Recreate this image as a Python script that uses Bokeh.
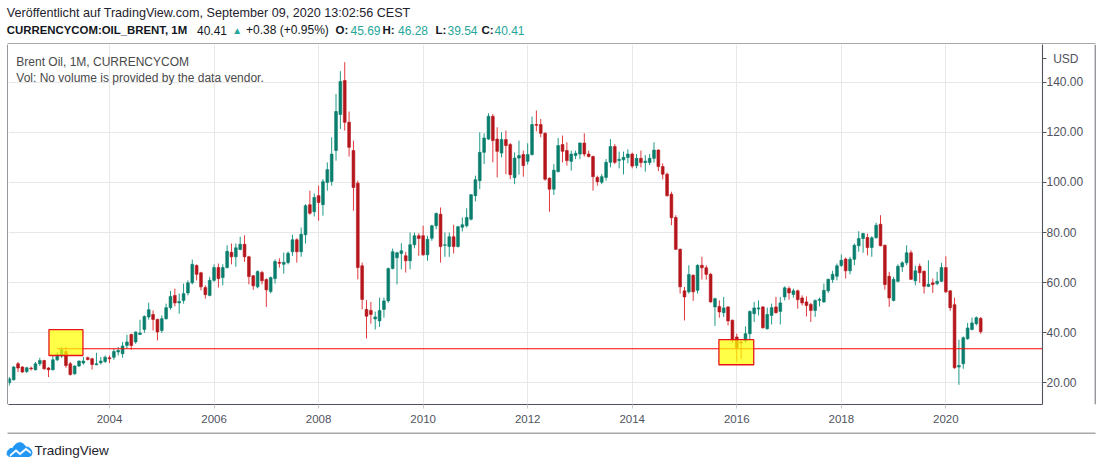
import pandas as pd
from bokeh.plotting import figure
from bokeh.layouts import column, row
from bokeh.models import (Range1d, FixedTicker, NumeralTickFormatter, Label,
                          ColumnDataSource)
from bokeh.embed import file_html
from bokeh.resources import INLINE
from bokeh.core.properties import value

# ---------------- data (monthly Brent OHLC, Feb 2002 .. Sep 2020) ----------------
first_month = "2002-02"

opens = [
    20.0, 21.2, 27.6, 26.3, 24.5, 25.9, 25.2, 27.6, 28.9, 25.9, 25.2,
    29.2, 30.7, 32.5, 27.6, 23.6, 26.7, 27.9, 30.0, 29.6, 27.2, 28.0, 28.5,
    30.0, 30.2, 32.3, 31.6, 34.9, 39.3, 36.3, 39.3, 41.3, 46.3, 47.3, 45.3,
    40.9, 45.6, 50.0, 54.9, 51.9, 52.9, 55.9, 59.9, 66.8, 63.9, 58.0, 54.9,
    60.9, 66.0, 62.0, 66.0, 72.1, 70.3, 73.2, 75.3, 70.3, 62.7, 58.3, 64.0,
    61.2, 56.4, 61.6, 68.1, 67.3, 68.0, 72.3, 77.1, 72.3, 79.1, 91.1, 88.3,
    94.7, 91.1, 100.0, 100.4, 112.7, 127.1, 140.7, 124.0, 112.7, 99.7, 66.7, 49.3,
    48.9, 45.5, 44.7, 49.3, 52.7, 65.6, 69.9, 71.6, 70.7, 68.7, 75.1, 78.7,
    78.7, 71.1, 77.7, 82.7, 87.3, 74.9, 74.4, 78.3, 74.4, 82.1, 82.7, 85.3,
    94.7, 100.7, 112.0, 117.3, 126.4, 117.3, 111.7, 117.1, 115.1, 101.9, 109.7, 111.1,
    108.4, 111.1, 123.1, 123.1, 119.6, 101.7, 97.3, 104.3, 115.1, 112.7, 108.4, 110.7,
    111.3, 115.7, 111.3, 110.3, 102.0, 100.1, 102.0, 108.0, 114.3, 108.7, 109.0, 109.9,
    111.3, 106.7, 109.6, 107.9, 107.9, 109.6, 112.9, 106.3, 103.3, 95.3, 86.0, 73.3,
    56.7, 56.3, 62.9, 56.9, 66.9, 65.9, 63.3, 50.3, 50.5, 48.0, 50.3, 45.0,
    38.3, 36.3, 36.7, 39.6, 47.6, 49.5, 50.3, 41.6, 46.9, 50.3, 48.5, 54.3,
    57.6, 55.3, 56.7, 53.9, 52.3, 51.3, 48.9, 52.9, 52.3, 56.7, 61.2, 62.5,
    66.8, 69.4, 64.7, 69.3, 74.7, 77.6, 78.0, 74.0, 77.9, 83.3, 74.9, 62.5,
    52.9, 60.5, 66.3, 67.9, 71.9, 60.7, 66.5, 64.5, 58.5, 59.9, 59.6, 60.5,
    66.0, 56.7, 51.2, 26.3, 27.6, 37.6, 41.3, 43.6, 45.69,
]
highs = [
    22.3, 26.7, 28.3, 26.7, 26.4, 26.5, 28.3, 30.0, 29.2, 26.3, 30.9,
    32.3, 34.3, 34.3, 28.3, 27.0, 28.9, 30.3, 30.5, 30.0, 32.0, 30.3, 30.9,
    30.9, 33.6, 34.3, 36.3, 39.2, 39.6, 40.5, 45.2, 46.9, 52.0, 48.9, 45.6,
    46.9, 51.6, 56.7, 57.6, 55.6, 59.6, 60.9, 69.2, 67.3, 64.3, 58.9, 62.3,
    67.3, 67.6, 67.3, 74.9, 75.6, 75.6, 78.3, 78.9, 70.7, 63.0, 64.9, 64.7,
    61.7, 62.4, 69.3, 69.7, 72.0, 72.4, 79.1, 77.7, 82.0, 91.3, 96.7, 95.6,
    98.7, 101.3, 108.0, 118.0, 135.3, 144.4, 148.0, 128.3, 116.7, 100.7, 68.0, 53.0,
    52.3, 48.4, 54.0, 54.0, 66.0, 73.6, 72.3, 75.7, 72.3, 80.0, 80.0, 79.7,
    82.7, 78.7, 83.1, 88.0, 90.0, 80.0, 80.0, 83.1, 82.7, 86.0, 89.7, 95.3,
    102.7, 120.0, 119.6, 127.6, 127.3, 122.0, 120.0, 120.7, 115.7, 112.0, 116.7, 112.7,
    115.6, 126.3, 128.7, 125.3, 120.0, 102.0, 107.3, 117.7, 118.7, 116.0, 112.7, 112.7,
    116.0, 119.6, 112.7, 110.7, 102.7, 103.3, 109.3, 117.3, 115.3, 112.3, 112.3, 113.2,
    111.9, 111.3, 112.7, 110.9, 111.3, 116.0, 113.2, 107.6, 103.9, 96.3, 86.9, 73.6,
    58.3, 66.9, 63.3, 67.3, 70.3, 66.9, 63.9, 54.0, 52.9, 54.3, 50.5, 45.2,
    39.6, 36.9, 42.5, 48.9, 52.3, 52.9, 50.6, 50.0, 51.6, 54.3, 54.3, 58.5,
    58.5, 57.6, 57.2, 54.9, 54.5, 51.9, 53.2, 54.0, 59.6, 61.6, 64.7, 67.6,
    71.2, 70.0, 70.3, 75.6, 80.5, 79.9, 79.6, 78.5, 83.9, 86.9, 75.2, 64.3,
    62.3, 67.3, 68.5, 74.9, 72.9, 66.7, 67.6, 64.9, 68.9, 61.6, 64.3, 67.9,
    70.5, 56.9, 54.0, 37.2, 38.5, 43.9, 46.0, 46.5, 46.28,
]
lows = [
    18.9, 20.9, 24.3, 24.0, 23.9, 24.9, 24.9, 26.7, 25.2, 22.3, 24.9,
    28.7, 30.0, 26.0, 22.9, 23.2, 26.3, 27.2, 28.9, 25.3, 27.0, 27.3, 27.9,
    27.9, 29.2, 30.9, 30.0, 33.6, 33.2, 35.6, 39.2, 39.9, 45.2, 40.9, 36.9,
    39.9, 45.2, 49.2, 50.5, 47.6, 51.6, 54.9, 59.3, 60.9, 56.9, 53.6, 54.5,
    60.3, 58.0, 58.9, 65.6, 67.3, 66.3, 72.9, 68.3, 59.3, 57.1, 57.7, 59.3,
    50.3, 55.7, 59.6, 66.0, 63.6, 67.3, 70.7, 68.0, 70.3, 75.6, 87.1, 86.4,
    84.7, 86.7, 96.7, 98.7, 108.7, 121.3, 120.7, 110.3, 88.7, 61.3, 49.3, 37.7,
    43.6, 41.3, 42.3, 46.0, 52.0, 65.3, 59.3, 65.3, 64.0, 65.3, 73.7, 70.7,
    70.7, 68.7, 76.7, 81.3, 68.0, 70.3, 70.3, 71.6, 74.0, 80.4, 82.0, 84.8,
    92.4, 97.3, 107.3, 116.9, 108.0, 102.0, 110.0, 103.3, 101.3, 99.3, 103.1, 102.3,
    107.1, 110.7, 120.4, 118.0, 100.7, 88.3, 95.0, 104.0, 108.0, 106.7, 104.7, 109.3,
    109.3, 110.3, 110.0, 96.7, 98.7, 99.3, 100.7, 106.0, 107.3, 105.6, 103.2, 107.6,
    105.6, 105.6, 106.0, 104.3, 106.9, 107.9, 104.5, 101.2, 94.3, 82.9, 73.0, 55.6,
    44.9, 55.6, 52.7, 55.6, 61.2, 61.2, 52.0, 42.7, 46.0, 46.3, 42.9, 35.9,
    28.3, 29.6, 35.9, 37.2, 44.3, 46.9, 41.6, 41.2, 43.3, 47.6, 43.3, 52.9,
    53.2, 54.0, 49.6, 50.9, 46.5, 44.3, 46.3, 50.5, 51.9, 55.9, 59.9, 60.9,
    66.3, 61.6, 63.3, 66.9, 72.3, 71.9, 70.9, 70.3, 77.6, 74.5, 57.2, 50.3,
    52.5, 60.0, 64.3, 66.9, 61.0, 58.9, 59.9, 55.6, 58.2, 55.9, 58.9, 60.3,
    55.9, 48.7, 25.6, 19.2, 25.6, 37.2, 40.9, 42.9, 39.54,
]
closes = [
    21.6, 26.3, 25.9, 24.3, 26.0, 25.6, 27.6, 28.9, 25.6, 25.2, 29.2,
    31.2, 33.3, 26.9, 23.3, 26.7, 28.7, 28.7, 29.3, 27.3, 27.6, 28.7, 30.2,
    29.6, 32.5, 32.9, 34.7, 36.3, 34.9, 40.3, 39.9, 46.5, 49.2, 45.3, 40.3,
    45.6, 50.0, 54.5, 51.9, 52.5, 55.6, 59.9, 67.3, 63.3, 58.3, 55.2, 60.9,
    66.0, 61.6, 66.0, 72.5, 70.3, 73.9, 75.3, 70.3, 62.4, 58.7, 64.4, 60.7,
    57.1, 62.0, 68.4, 67.7, 68.1, 71.7, 77.1, 72.3, 79.3, 90.7, 87.7, 94.0,
    92.0, 100.3, 105.1, 111.3, 128.3, 140.3, 124.0, 114.0, 98.0, 66.0, 53.3, 46.6,
    47.3, 46.3, 48.9, 52.7, 65.6, 72.3, 71.9, 72.7, 68.7, 75.1, 78.7, 77.6,
    71.1, 77.3, 82.7, 87.6, 74.4, 75.1, 78.3, 74.4, 82.3, 83.1, 86.0, 95.1,
    101.1, 112.0, 117.7, 126.4, 116.7, 112.4, 117.1, 114.7, 103.1, 109.7, 110.7, 106.7,
    111.1, 123.1, 122.8, 119.6, 101.3, 97.3, 104.9, 114.7, 112.4, 108.7, 111.3, 111.6,
    115.7, 111.3, 110.3, 102.3, 100.3, 102.3, 108.0, 114.3, 108.0, 109.2, 110.0, 111.3,
    106.5, 109.6, 107.9, 108.5, 109.6, 112.9, 106.3, 103.3, 94.7, 85.9, 73.3, 58.3,
    54.3, 63.2, 56.3, 66.9, 65.9, 63.3, 52.3, 53.6, 48.3, 49.9, 44.7, 37.0,
    33.9, 35.9, 39.6, 48.5, 49.9, 49.9, 42.0, 47.3, 50.0, 48.0, 51.9, 57.9,
    55.9, 56.7, 53.2, 51.9, 50.9, 48.9, 52.9, 53.3, 56.9, 61.3, 63.3, 66.7,
    68.9, 64.7, 69.3, 74.9, 77.6, 79.6, 74.0, 77.9, 82.9, 74.7, 59.2, 53.9,
    61.3, 66.5, 67.9, 71.9, 61.3, 64.7, 63.9, 58.5, 59.3, 59.2, 60.5, 66.0,
    56.3, 50.0, 26.0, 26.9, 38.0, 41.9, 43.9, 46.0, 40.41,
]

price_ticks = [20, 40, 60, 80, 100, 120, 140]
year_ticks = [2004, 2006, 2008, 2010, 2012, 2014, 2016, 2018, 2020]
currency_label = "USD"
currency_level = 149.3

# drawings on the chart (horizontal level ray and two highlight boxes), in months since Jan 2002
level_price = 33.6
level_start = 12.0
box_left = [10.1, 163.9]
box_right = [17.9, 171.9]
box_low = [30.9, 27.2]
box_high = [41.2, 37.2]

header_1 = "Veröffentlicht auf TradingView.com, September 09, 2020 13:02:56 CEST"
symbol = "CURRENCYCOM:OIL_BRENT, 1M"
last_price = "40.41"
change = "+0.38 (+0.95%)"
ohlc_labels = ["O:", "H:", "L:", "C:"]
ohlc_values = ["45.69", "46.28", "39.54", "40.41"]
legend_1 = "Brent Oil, 1M, CURRENCYCOM"
legend_2 = "Vol: No volume is provided by the data vendor."
brand = "TradingView"

# ---------------- helpers ----------------
BASE_YEAR = 2002
months = pd.period_range(first_month, periods=len(opens), freq="M")
xpos = [(m.year - BASE_YEAR) * 12 + (m.month - 1) for m in months]

UP_BODY, DOWN_BODY = "#0a7e6d", "#b5161b"
UP_WICK, DOWN_WICK = "#1e9987", "#e0393e"
TEAL = "#26a69a"
FONT = "Liberation Sans"
AX_COL = "#50535e"
FRAME_COL = "#4f525b"

up = [c >= o for o, c in zip(opens, closes)]
src = ColumnDataSource(dict(
    x=xpos, o=opens, h=highs, l=lows, c=closes,
    top=[max(o, c) for o, c in zip(opens, closes)],
    bot=[min(o, c) for o, c in zip(opens, closes)],
    body=[UP_BODY if u else DOWN_BODY for u in up],
    wick=[UP_WICK if u else DOWN_WICK for u in up],
))


def strip(width, height, x_end, y_top, y_bottom):
    """A bare pixel-coordinate panel (no axes) used for header, footer and frame edges."""
    f = figure(width=width, height=height, output_backend="svg", toolbar_location=None,
               x_range=Range1d(0, x_end), y_range=Range1d(y_bottom, y_top), title=None,
               x_axis_location=None, y_axis_location=None,
               min_border_left=0, min_border_right=0, min_border_top=0, min_border_bottom=0)
    f.grid.visible = False
    f.outline_line_color = None
    f.background_fill_color = "white"
    f.border_fill_color = "white"
    return f


def lab(fig, text, x, y, size, color="#131722", style="normal", align="left", units="data"):
    fig.add_layout(Label(x=x, y=y, x_units=units, y_units=units, text=text,
                         text_font=FONT, text_font_size=size, text_color=color,
                         text_font_style=style, text_baseline="middle", text_align=align))


# ---------------- header strip (page pixels 0..44) ----------------
head = strip(1100, 44, 1100, 0, 44)
lab(head, header_1, 6.3, 12.8, "12.6px", "#1e222d")
lab(head, symbol, 6.3, 29.5, "11.4px", "#131722", "bold")
lab(head, last_price, 196.5, 29.5, "12px", "#131722")
lab(head, "\u25B2", 236.8, 29.5, "10px", TEAL, align="center")
lab(head, change, 245.6, 29.5, "12px", "#131722")
ohlc_x = [335, 382, 435, 481]
val_x = [350, 397.5, 447, 494]
for lbl, val, xx, vx in zip(ohlc_labels, ohlc_values, ohlc_x, val_x):
    lab(head, lbl, xx, 29.5, "11.5px", "#131722", "bold")
    lab(head, val, vx, 29.5, "12px", TEAL)
# top edge of the chart box
head.quad(left=[7], right=[1095], top=[42.9], bottom=[44], fill_color=FRAME_COL, line_color=None)

# ---------------- main chart ----------------
# frame spans page x 8..1042, y 44..404; right axis panel to 1094; date axis to 432
X_START, X_END = 0.81, 238.19
Y_START, Y_END = 11.34, 155.05

p = figure(width=1086, height=388, output_backend="svg", toolbar_location=None,
           x_range=Range1d(X_START, X_END), y_range=Range1d(Y_START, Y_END),
           y_axis_location="right", title=None,
           min_border_left=0, min_border_right=52, min_border_top=0,
           min_border_bottom=28)
p.background_fill_color = "white"
p.border_fill_color = "white"
p.outline_line_color = None

yt_axis = FixedTicker(ticks=price_ticks + [currency_level])
yt_grid = FixedTicker(ticks=price_ticks)
p.yaxis.ticker = yt_axis
p.ygrid.ticker = yt_grid
p.yaxis.formatter = NumeralTickFormatter(format="0.00")
p.yaxis.major_label_overrides = {currency_level: "\u00a0\u00a0" + currency_label}
p.yaxis.axis_line_color = FRAME_COL
p.yaxis.axis_line_width = 1.1
p.yaxis.major_tick_out = 4
p.yaxis.major_tick_in = 0
p.yaxis.minor_tick_line_color = None
p.yaxis.major_tick_line_color = AX_COL
p.yaxis.major_label_text_font = FONT
p.yaxis.major_label_text_font_size = "12px"
p.yaxis.major_label_text_color = AX_COL
p.yaxis.major_label_standoff = 0

xt = FixedTicker(ticks=[(y - BASE_YEAR) * 12 for y in year_ticks])
p.xaxis.ticker = xt
p.xgrid.ticker = xt
p.xaxis.major_label_overrides = {(y - BASE_YEAR) * 12: str(y) for y in year_ticks}
p.xaxis.axis_line_color = FRAME_COL
p.xaxis.axis_line_width = 1.1
p.xaxis.major_tick_out = 4
p.xaxis.major_tick_in = 0
p.xaxis.minor_tick_line_color = None
p.xaxis.major_tick_line_color = "#c8c8c8"
p.xaxis.major_label_text_font = FONT
p.xaxis.major_label_text_font_size = "11.5px"
p.xaxis.major_label_text_color = AX_COL
p.xaxis.major_label_standoff = 6

p.xgrid.grid_line_color = "#e8e8e8"
p.ygrid.grid_line_color = "#e8e8e8"

# candles
p.segment(x0="x", y0="h", x1="x", y1="l", source=src, line_color="wick", line_width=1)
p.vbar(x="x", width=0.64, top="top", bottom="bot", source=src,
       fill_color="body", line_color="body", line_width=0.6)

# drawings
p.segment(x0=[level_start], y0=[level_price], x1=[X_END + 5], y1=[level_price],
          line_color="#ff0000", line_width=1.2)
p.quad(left=box_left, right=box_right, bottom=box_low, top=box_high,
       fill_color="#ffff00", fill_alpha=0.72, line_color="#e8161b", line_width=1.3)

# legend texts inside the pane (canvas pixels of this figure)
lab(p, legend_1, 7.8, 17.5, "12px", "#4a4a4a", units="canvas")
lab(p, legend_2, 7.8, 33.5, "12px", "#4a4a4a", units="canvas")

# left and right edges of the chart box
left_edge = strip(8, 388, 8, 0, 388)
left_edge.quad(left=[6.9], right=[8], top=[0], bottom=[388], fill_color=FRAME_COL, line_color=None)
right_edge = strip(6, 388, 6, 0, 388)
right_edge.quad(left=[0], right=[1.1], top=[0], bottom=[388], fill_color=FRAME_COL, line_color=None)

# ---------------- footer strip with logo (page pixels 432..468) ----------------
foot = strip(1100, 36, 1100, 432, 468)
foot.quad(left=[7], right=[1095], top=[432], bottom=[433.1], fill_color=FRAME_COL, line_color=None)
cloud_x = [8.5, 6.5, 7, 9.5, 12, 14, 17, 20.5, 23.5, 25.3, 28, 30.5, 31.5, 30.7, 28.5]
cloud_y = [456, 454, 450.5, 448.2, 448, 445, 442.6, 442.2, 444, 446.6, 446.8, 449, 452, 455, 456]
foot.patch(cloud_x, cloud_y, fill_color="#2196f3", line_color="#2196f3", line_width=1)
zig_x = [9.5, 15.5, 19.5, 25.5, 30, 30, 25.5, 19.5, 15.5, 9.5]
zig_y = [454.2, 449, 452.6, 447.4, 451.2, 453.0, 449.4, 454.6, 451, 456]
foot.patch(zig_x, zig_y, fill_color="white", line_color="white", line_width=0.5)
foot.text(x=[34], y=[450], text=[brand], text_font=value(FONT), text_font_size="13.5px",
          text_color="#1e222d", text_baseline="middle", text_align="left")

layout = column(head, row(left_edge, p, right_edge, spacing=0), foot, spacing=0)
open("out.html", "w").write(file_html(layout, INLINE))
